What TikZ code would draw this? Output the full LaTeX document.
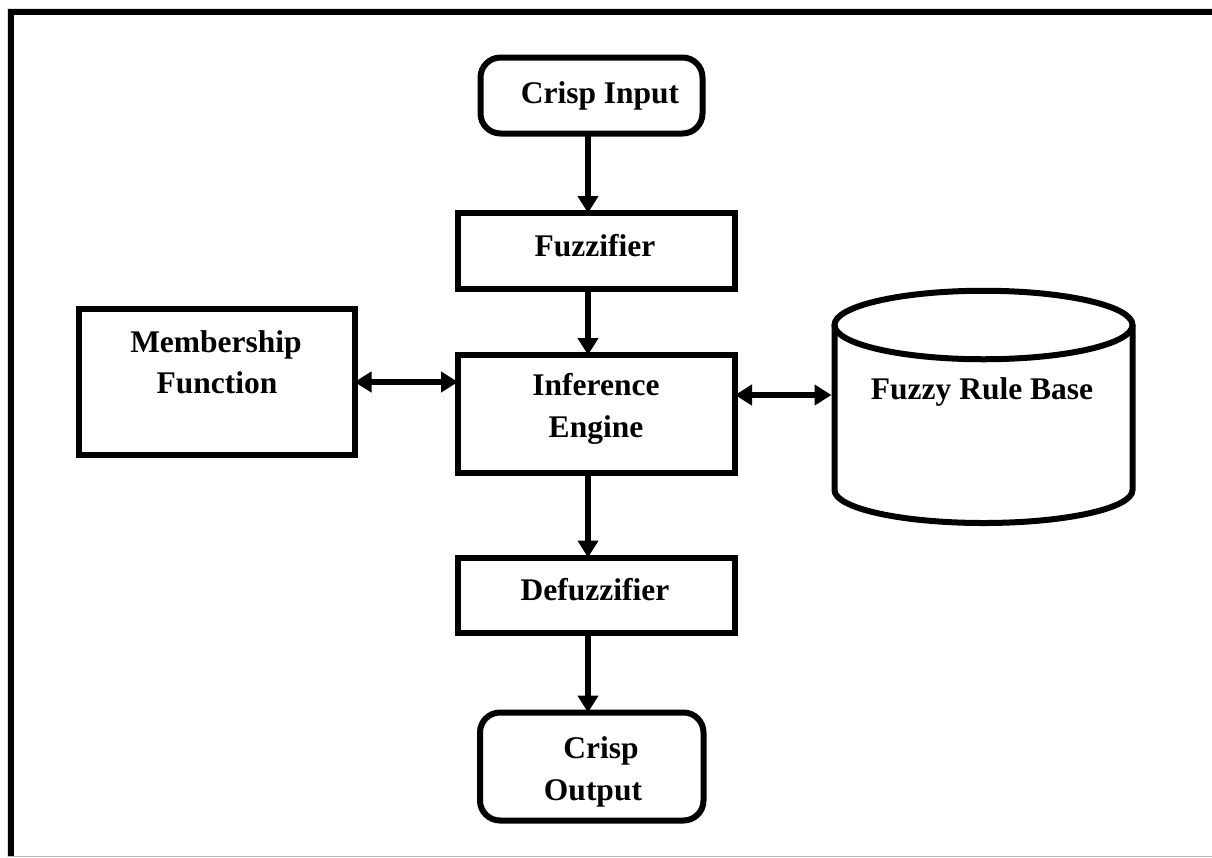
\documentclass[tikz,border=0pt]{standalone}
\usepackage{fontspec}
\setmainfont{Liberation Serif}
\usetikzlibrary{arrows.meta,calc}

\begin{document}
\begin{tikzpicture}[x=1pt,y=-1pt,
  shell/.style={draw=black,line width=6pt,inner sep=0pt,outer sep=0pt,
    fill=white},
  blockbox/.style={shell,rectangle},
  termbox/.style={shell,rectangle,rounded corners=20pt},
  lbl/.style={anchor=base,inner sep=0pt,
    font=\fontsize{31.5}{42}\selectfont\bfseries},
  flow/.style={line width=5.5pt,-{Triangle[length=17pt,width=20pt]}},
  twoway/.style={line width=5.5pt,
    {Triangle[length=17pt,width=20pt]}-{Triangle[length=17pt,width=20pt]}}]

\useasboundingbox (0,0) rectangle (1212,857);

% page frame
\fill[black!12] (7,8) rectangle (1212,9);
\fill[black!12] (7,8) rectangle (8,857);
\fill[black] (8,9) rectangle (1212,15);
\fill[black] (8,9) rectangle (13.5,857);
\fill[black!28] (8,855.5) rectangle (1212,857);

% blocks
\node[termbox,minimum width=222pt,minimum height=76pt] (ci) at (591.5,95.5) {};
\node[blockbox,minimum width=277pt,minimum height=76pt] (fz) at (596.5,251) {};
\node[blockbox,minimum width=277pt,minimum height=118pt] (ie) at (596.5,414) {};
\node[blockbox,minimum width=275.5pt,minimum height=145.5pt] (mf) at (216.75,381.75) {};
\node[blockbox,minimum width=277pt,minimum height=75pt] (df) at (596.5,595) {};
\node[termbox,minimum width=223.5pt,minimum height=108pt] (co) at (591.75,766.5) {};

% rule base drawn as a cylinder
\draw[line width=6pt,fill=white] (834.5,325) -- (834.5,490)
  arc[start angle=180,end angle=360,x radius=149pt,y radius=33pt]
  -- (1132.5,325);
\draw[line width=6pt] (983.5,325) ellipse[x radius=149pt,y radius=34.25pt];
\coordinate (rb) at (831.5,395);

% labels
\node[lbl] (ciT) at (600,103) {Crisp Input};
\node[lbl] (fzT) at (595,256) {Fuzzifier};
\node[lbl] (ieT1) at (596,395) {Inference};
\node[lbl] (ieT2) at (596,437) {Engine};
\node[lbl] (mfT1) at (216,352) {Membership};
\node[lbl] (mfT2) at (217,393) {Function};
\node[lbl] (rbT) at (982,399) {Fuzzy Rule Base};
\node[lbl] (dfT) at (595,600) {Defuzzifier};
\node[lbl] (coT1) at (601,758) {Crisp};
\node[lbl] (coT2) at (593,800) {Output};

% connectors
\coordinate (spine) at (588,0);
\coordinate (lane1) at (0,382);
\coordinate (lane2) at (0,395);
\draw[flow] (ci.south -| spine) -- (fz.north -| spine);
\draw[flow] (fz.south -| spine) -- (ie.north -| spine);
\draw[flow] (ie.south -| spine) -- (df.north -| spine);
\draw[flow] (df.south -| spine) -- (co.north -| spine);
\draw[twoway] (mf.east |- lane1) -- (ie.west |- lane1);
\draw[twoway] (ie.east |- lane2) -- (rb);

\end{tikzpicture}
\end{document}
